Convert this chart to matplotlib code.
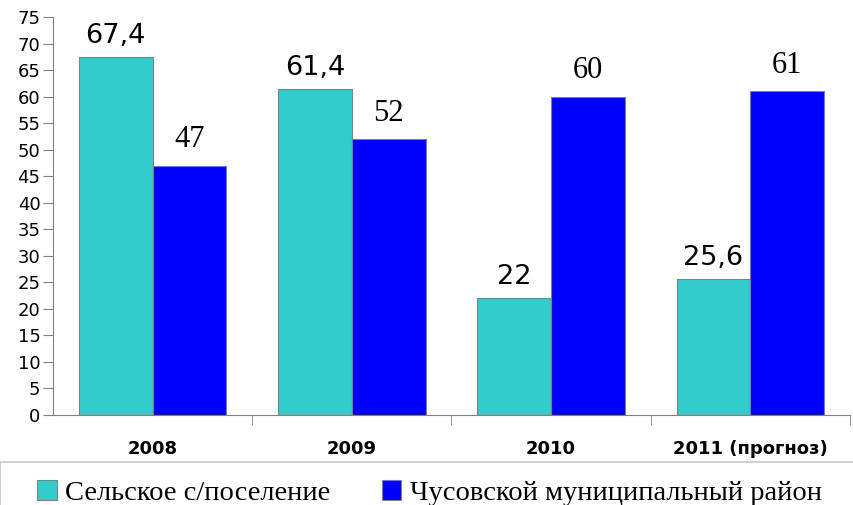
import matplotlib.pyplot as plt
from matplotlib.patches import Rectangle
import numpy as np

years = ['2008', '2009', '2010', '2011 (прогноз)']
rural = [67.4, 61.4, 22, 25.6]
district = [47, 52, 60, 61]
rural_labels = ['67,4', '61,4', '22', '25,6']
district_labels = ['47', '52', '60', '61']
series_names = ['Сельское с/поселение', 'Чусовской муниципальный район']

fig = plt.figure(figsize=(8.54, 5.05), dpi=100)
ax = fig.add_axes([53 / 854, 1 - 415 / 505, 797 / 854, 398 / 505])

x = np.arange(len(years))
w = 0.37
b1 = ax.bar(x - w / 2, rural, w, color='#33CCCC', edgecolor='#808080', linewidth=0.8,
            label=series_names[0])
b2 = ax.bar(x + w / 2, district, w, color='#0000FF', edgecolor='#808080', linewidth=0.8,
            label=series_names[1])

for rect, lab in zip(b1, rural_labels):
    ax.annotate(lab, (rect.get_x() + rect.get_width() / 2, rect.get_height()),
                xytext=(0, 6), textcoords='offset points', ha='center', va='bottom',
                fontsize=19.5, family='DejaVu Sans')
for rect, lab in zip(b2, district_labels):
    ax.annotate(lab, (rect.get_x() + rect.get_width() / 2, rect.get_height()),
                xytext=(0, 8), textcoords='offset points', ha='center', va='bottom',
                fontsize=22, family='Liberation Serif')

ax.set_xlim(-0.5, 3.5)
ax.set_ylim(0, 75)
ax.set_yticks(range(0, 76, 5))
ax.tick_params(axis='y', labelsize=13, length=7, color='#808080', pad=2)

ax.set_xticks(x)
ax.set_xticklabels(years, fontsize=13, fontweight='bold')
ax.tick_params(axis='x', length=0, pad=18)
ax.set_xticks(list(x + 0.5), minor=True)
ax.tick_params(axis='x', which='minor', length=7, direction='out', color='#808080')

for s in ['top', 'right']:
    ax.spines[s].set_visible(False)
for s in ['left', 'bottom']:
    ax.spines[s].set_color('#808080')

# legend box along the bottom
fig.patches.append(Rectangle((0, -0.05), 1, 0.05 + 43 / 505, transform=fig.transFigure,
                             fill=False, edgecolor='#c8c8c8', linewidth=1.2))
fig.legend(handles=[b1, b2], labels=series_names, loc='center', ncol=2, mode='expand',
           bbox_to_anchor=(37 / 854, 0, (822 - 37) / 854, 24 / 505),
           frameon=False, borderpad=0, borderaxespad=0, handlelength=0.7,
           handleheight=0.7, handletextpad=0.3,
           prop={'family': 'Liberation Serif', 'size': 20.5})

fig.savefig('out.png', dpi=100)
